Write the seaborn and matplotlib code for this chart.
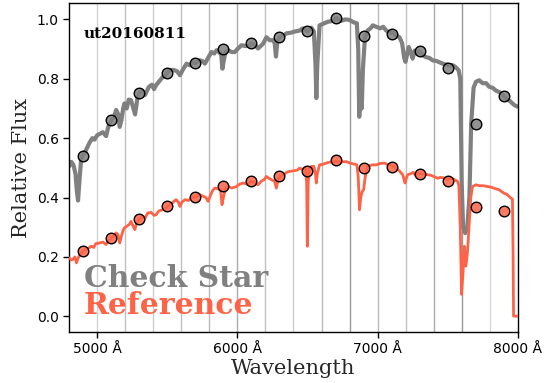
import matplotlib
matplotlib.use("Agg")
import matplotlib.pyplot as plt
import matplotlib.colors as mcolors
import seaborn as sns
import pandas as pd

# ---------------- data ----------------
check_wl = [4800, 4815, 4830, 4845, 4855, 4863, 4872, 4885, 4900, 4920, 4944, 4965, 4980, 5000,
            5020, 5040, 5063, 5080, 5100, 5118, 5135, 5150, 5160, 5172, 5185, 5194, 5210, 5225,
            5241, 5258, 5270, 5285, 5300, 5320, 5340, 5369, 5390, 5405, 5419, 5440, 5467, 5485,
            5500, 5519, 5545, 5570, 5590, 5610, 5637, 5660, 5680, 5700, 5732, 5750, 5768, 5790,
            5815, 5835, 5851, 5870, 5885, 5893, 5902, 5915, 5934, 5960, 5981, 6000, 6029, 6060,
            6088, 6100, 6125, 6147, 6165, 6183, 6207, 6230, 6254, 6266, 6275, 6285, 6302, 6330,
            6349, 6380, 6408, 6440, 6467, 6490, 6503, 6527, 6545, 6557, 6563, 6570, 6586, 6610,
            6645, 6680, 6705, 6740, 6770, 6800, 6830, 6852, 6862, 6869, 6878, 6887, 6895, 6910,
            6930, 6950, 6966, 6990, 7020, 7040, 7061, 7085, 7110, 7135, 7156, 7175, 7190, 7199,
            7210, 7222, 7237, 7250, 7265, 7280, 7298, 7320, 7345, 7370, 7393, 7420, 7445, 7464,
            7490, 7515, 7535, 7555, 7578, 7590, 7600, 7610, 7625, 7640, 7655, 7668, 7685, 7702,
            7725, 7750, 7775, 7796, 7820, 7845, 7870, 7900, 7925, 7945, 7962, 7980, 8000]
check_flux = [0.505, 0.52, 0.51, 0.48, 0.42, 0.39, 0.45, 0.53, 0.545, 0.56, 0.584, 0.60, 0.595, 0.61,
              0.615, 0.62, 0.607, 0.64, 0.66, 0.67, 0.695, 0.68, 0.638, 0.66, 0.70, 0.717, 0.70, 0.73,
              0.728, 0.70, 0.68, 0.73, 0.753, 0.76, 0.745, 0.773, 0.78, 0.765, 0.778, 0.79, 0.806, 0.81,
              0.821, 0.829, 0.83, 0.825, 0.812, 0.83, 0.851, 0.845, 0.855, 0.853, 0.862, 0.86, 0.851, 0.87,
              0.89, 0.885, 0.896, 0.89, 0.88, 0.834, 0.86, 0.89, 0.896, 0.89, 0.89, 0.90, 0.913, 0.91,
              0.913, 0.919, 0.915, 0.902, 0.91, 0.918, 0.94, 0.93, 0.93, 0.92, 0.875, 0.925, 0.941, 0.945,
              0.953, 0.955, 0.959, 0.962, 0.97, 0.962, 0.96, 0.972, 0.96, 0.85, 0.735, 0.85, 0.98, 0.985,
              0.992, 0.995, 1.004, 0.995, 1.0, 0.998, 0.99, 0.987, 0.90, 0.672, 0.75, 0.70, 0.83, 0.94,
              0.963, 0.97, 0.98, 0.975, 0.97, 0.975, 0.963, 0.955, 0.955, 0.945, 0.94, 0.92, 0.87, 0.857,
              0.88, 0.907, 0.89, 0.868, 0.895, 0.885, 0.893, 0.88, 0.873, 0.87, 0.862, 0.86, 0.855, 0.851,
              0.848, 0.845, 0.846, 0.84, 0.829, 0.80, 0.45, 0.30, 0.28, 0.30, 0.40, 0.65, 0.77, 0.79,
              0.795, 0.785, 0.785, 0.773, 0.77, 0.76, 0.755, 0.742, 0.73, 0.725, 0.717, 0.71, 0.706]

ref_wl = [4800, 4815, 4826, 4840, 4852, 4862, 4880, 4900, 4920, 4940, 4957, 4975, 4990, 5016,
          5040, 5063, 5080, 5100, 5118, 5135, 5148, 5160, 5172, 5185, 5194, 5215, 5230, 5241,
          5255, 5268, 5282, 5300, 5320, 5340, 5360, 5385, 5405, 5419, 5440, 5467, 5485, 5500,
          5520, 5542, 5562, 5578, 5590, 5605, 5626, 5650, 5675, 5700, 5730, 5756, 5775, 5791,
          5810, 5825, 5839, 5860, 5880, 5890, 5900, 5915, 5934, 5960, 5993, 6015, 6041, 6070,
          6100, 6125, 6147, 6170, 6190, 6207, 6225, 6243, 6265, 6278, 6290, 6300, 6330, 6350,
          6373, 6400, 6425, 6444, 6465, 6485, 6494, 6499, 6505, 6515, 6527, 6545, 6557, 6563,
          6570, 6586, 6610, 6645, 6675, 6700, 6740, 6776, 6810, 6840, 6852, 6862, 6871, 6880,
          6890, 6900, 6912, 6930, 6960, 6990, 7020, 7049, 7075, 7100, 7130, 7155, 7179, 7189,
          7196, 7205, 7215, 7235, 7255, 7270, 7286, 7310, 7335, 7357, 7380, 7405, 7428, 7450,
          7475, 7500, 7524, 7550, 7571, 7580, 7590, 7599, 7610, 7619, 7630, 7642, 7654, 7665,
          7677, 7702, 7725, 7750, 7784, 7810, 7840, 7868, 7900, 7925, 7951, 7962, 7967, 7970, 8000]
ref_flux = [0.197, 0.19, 0.191, 0.20, 0.18, 0.195, 0.21, 0.219, 0.225, 0.23, 0.236, 0.232, 0.245, 0.247,
            0.25, 0.242, 0.255, 0.265, 0.27, 0.281, 0.275, 0.247, 0.27, 0.29, 0.298, 0.305, 0.31, 0.32,
            0.305, 0.292, 0.315, 0.328, 0.335, 0.33, 0.348, 0.35, 0.34, 0.342, 0.355, 0.359, 0.365, 0.37,
            0.375, 0.385, 0.393, 0.385, 0.37, 0.385, 0.393, 0.39, 0.40, 0.402, 0.41, 0.404, 0.40, 0.387,
            0.41, 0.425, 0.432, 0.43, 0.425, 0.376, 0.40, 0.43, 0.437, 0.432, 0.437, 0.445, 0.449, 0.445,
            0.455, 0.45, 0.443, 0.455, 0.46, 0.471, 0.465, 0.46, 0.455, 0.432, 0.46, 0.471, 0.475, 0.485,
            0.488, 0.49, 0.492, 0.499, 0.495, 0.50, 0.45, 0.236, 0.45, 0.50, 0.505, 0.505, 0.48, 0.449,
            0.48, 0.51, 0.512, 0.518, 0.52, 0.522, 0.52, 0.521, 0.515, 0.512, 0.51, 0.47, 0.359, 0.40,
            0.42, 0.426, 0.47, 0.505, 0.51, 0.51, 0.515, 0.516, 0.51, 0.508, 0.50, 0.49, 0.477, 0.46,
            0.449, 0.465, 0.477, 0.48, 0.485, 0.475, 0.482, 0.48, 0.478, 0.477, 0.475, 0.47, 0.465, 0.468,
            0.466, 0.462, 0.465, 0.46, 0.454, 0.44, 0.30, 0.074, 0.15, 0.236, 0.169, 0.22, 0.314, 0.40,
            0.437, 0.443, 0.44, 0.44, 0.437, 0.435, 0.43, 0.426, 0.415, 0.41, 0.398, 0.395, 0.20, 0.001, 0.0]

bin_wl = [4900, 5100, 5300, 5500, 5700, 5900, 6100, 6300, 6500, 6700, 6900, 7100, 7300, 7500, 7700, 7900]
check_bins = [0.540, 0.661, 0.753, 0.821, 0.853, 0.899, 0.919, 0.941, 0.960, 1.004, 0.944, 0.950,
              0.893, 0.835, 0.648, 0.742]
ref_bins = [0.219, 0.265, 0.328, 0.370, 0.402, 0.440, 0.455, 0.471, 0.489, 0.525, 0.498, 0.502,
            0.480, 0.455, 0.368, 0.355]

edge_wl = [5000, 5200, 5400, 5600, 5800, 6000, 6200, 6400, 6600, 6800, 7000, 7200, 7400, 7600, 7800]
edge_alpha = [0.35, 0.5, 0.4, 0.5, 0.55, 0.65, 0.5, 0.4, 0.55, 0.8, 0.55, 0.5, 0.65, 0.8, 0.3]

xticks = [5000, 6000, 7000, 8000]
xticklabels = ["5000 Å", "6000 Å", "7000 Å", "8000 Å"]
yticks = [0.0, 0.2, 0.4, 0.6, 0.8, 1.0]

# ---------------- plot ----------------
sns.set_style("ticks")
plt.rcParams['font.family'] = ['DejaVu Sans']

fig = plt.figure(figsize=(5.45, 3.83), dpi=100)
ax = fig.add_axes([0.127, 0.133, 0.823, 0.859])

for w, a in zip(edge_wl, edge_alpha):
    ax.axvline(w, color="gray", alpha=a, lw=1.0, zorder=0)

check_df = pd.DataFrame({"wl": check_wl, "flux": check_flux})
ref_df = pd.DataFrame({"wl": ref_wl, "flux": ref_flux})
sns.lineplot(data=check_df, x="wl", y="flux", color="gray", lw=3.0, sort=False,
             estimator=None, ax=ax, zorder=2)
sns.lineplot(data=ref_df, x="wl", y="flux", color="tomato", lw=2.0, sort=False,
             estimator=None, ax=ax, zorder=3)

cb = pd.DataFrame({"wl": bin_wl, "flux": check_bins})
rb = pd.DataFrame({"wl": bin_wl, "flux": ref_bins})
sns.scatterplot(data=cb, x="wl", y="flux", s=58, color=mcolors.to_rgba("gray", 0.85),
                edgecolor="black", linewidth=1.0, ax=ax, zorder=4)
sns.scatterplot(data=rb, x="wl", y="flux", s=58, color=mcolors.to_rgba("tomato", 0.85),
                edgecolor="black", linewidth=1.0, ax=ax, zorder=5)

ax.set_xlim(4800, 8000)
ax.set_ylim(-0.053, 1.055)
ax.set_xticks(xticks)
ax.set_xticklabels(xticklabels, fontsize=10)
ax.set_yticks(yticks)
ax.set_yticklabels([f"{v:.1f}" for v in yticks], fontsize=10)
ax.tick_params(colors="black", direction="out", length=4, width=1)
for s in ax.spines.values():
    s.set_color("black")
    s.set_linewidth(1.0)

ax.set_xlabel("Wavelength", family="DejaVu Serif", fontsize=15, labelpad=2)
ax.set_ylabel("Relative Flux", family="DejaVu Serif", fontsize=15, labelpad=4)

ax.text(0.033, 0.905, "ut20160811", transform=ax.transAxes, family="DejaVu Serif",
        fontweight="bold", fontsize=11, color="black", va="center", ha="left")
ax.text(0.033, 0.164, "Check Star", transform=ax.transAxes, family="DejaVu Serif",
        fontweight="bold", fontsize=21.5, color="gray", va="center", ha="left")
ax.text(0.033, 0.082, "Reference", transform=ax.transAxes, family="DejaVu Serif",
        fontweight="bold", fontsize=21.5, color="tomato", va="center", ha="left")

fig.savefig("out.png", dpi=100)
